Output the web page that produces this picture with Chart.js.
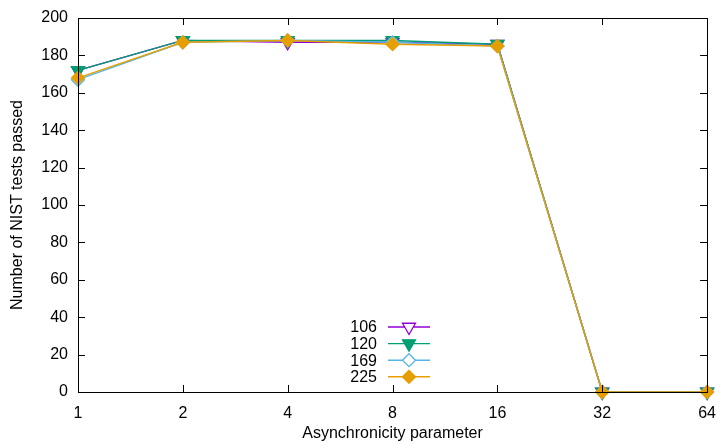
<!DOCTYPE html>
<html><head><meta charset="utf-8">
<script src="https://cdn.jsdelivr.net/npm/chart.js"></script>
<style>html,body{margin:0;padding:0;background:#fff}#wrap{width:720px;height:443px}</style>
</head><body><div id="wrap"><canvas id="c" width="720" height="443"></canvas></div>
<script>
const categories = ['1','2','4','8','16','32','64'];
const s106 = [172, 188, 187, 187, 186, 0, 0];
const s120 = [172, 188, 188, 188, 186, 0, 0];
const s169 = [167, 187, 188, 187, 185, 0, 0];
const s225 = [168, 187, 188, 186, 185, 0, 0];
const yTicks = [0,20,40,60,80,100,120,140,160,180,200];
const FONT = '"Liberation Sans", Arial, Helvetica, sans-serif';
const FS = 16;

function drawMarker(ctx, d, x, y) {
  ctx.save();
  ctx.fillStyle = d.pointBackgroundColor; ctx.strokeStyle = d.borderColor; ctx.lineWidth = d.pointBorderWidth;
  Chart.helpers.drawPoint(ctx, {pointStyle: d.pointStyle, radius: d.pointRadius, rotation: d.pointRotation, borderWidth: d.pointBorderWidth}, x, y);
  ctx.restore();
}
const frame = {
  id: 'frame',
  afterDraw(chart) {
    const ctx = chart.ctx, a = chart.chartArea;
    const x = chart.scales.x, y = chart.scales.y;
    ctx.save();
    ctx.strokeStyle = '#000'; ctx.lineWidth = 1;
    ctx.strokeRect(Math.round(a.left)+0.5, Math.round(a.top)+0.5, Math.round(a.right-a.left), Math.round(a.bottom-a.top));
    ctx.beginPath();
    x.ticks.forEach((t,i)=>{ const px = Math.round(x.getPixelForTick(i))+0.5;
      ctx.moveTo(px,a.bottom); ctx.lineTo(px,a.bottom-7); ctx.moveTo(px,a.top); ctx.lineTo(px,a.top+7); });
    y.ticks.forEach((t,i)=>{ const py = Math.round(y.getPixelForTick(i))+0.5;
      ctx.moveTo(a.left,py); ctx.lineTo(a.left+7,py); ctx.moveTo(a.right,py); ctx.lineTo(a.right-7,py); });
    ctx.stroke();
    // legend
    const rows = chart.data.datasets;
    ctx.font = FS + 'px ' + FONT; ctx.textAlign = 'right'; ctx.textBaseline = 'middle';
    rows.forEach((d,i)=>{
      const ly = 327 + i*16.6;
      ctx.fillStyle = '#000';
      ctx.fillText(d.label, 377, ly+1);
      ctx.strokeStyle = d.borderColor; ctx.lineWidth = 1.4;
      ctx.beginPath(); ctx.moveTo(388, ly); ctx.lineTo(430, ly); ctx.stroke();
      drawMarker(ctx, d, 409, ly);
    });
    ctx.restore();
  }
};
function ds(label, data, color, style, filled, rot, r, order) {
  return { label, data, order, borderColor: color, backgroundColor: color,
    pointBackgroundColor: filled ? color : '#fff', pointBorderColor: color,
    pointStyle: style, pointRotation: rot, pointRadius: r, pointBorderWidth: 1.3,
    borderWidth: 1.4, tension: 0, fill: false, clip: false };
}
new Chart(document.getElementById('c'), {
  type: 'line',
  data: { labels: categories, datasets: [
    ds('106', s106, '#9400d3', 'triangle', false, 180, 7.5, 3),
    ds('120', s120, '#009e73', 'triangle', true, 180, 7.5, 2),
    ds('169', s169, '#56b4e9', 'rectRot', false, 0, 6.5, 1),
    ds('225', s225, '#e69f00', 'rectRot', true, 0, 6.5, 0)
  ]},
  options: {
    responsive: false, animation: false, devicePixelRatio: 1,
    layout: { padding: { top: 18, right: 7, left: 0, bottom: 0 } },
    plugins: { legend: { display: false }, tooltip: { enabled: false } },
    scales: {
      x: { type: 'category', offset: false,
        grid: { display: false }, border: { display: false },
        ticks: { color: '#000', font: { family: FONT, size: FS }, padding: 4, maxRotation: 0, autoSkip: false },
        title: { display: true, text: 'Asynchronicity parameter', color: '#000', font: { family: FONT, size: FS }, padding: { top: 0, bottom: 0 } },
        afterFit(s) { s.height = 51; }
      },
      y: { min: 0, max: 200, afterBuildTicks(s) { s.ticks = yTicks.map(v=>({value:v})); },
        grid: { display: false }, border: { display: false },
        ticks: { color: '#000', font: { family: FONT, size: FS }, padding: 2 },
        title: { display: true, text: 'Number of NIST tests passed', color: '#000', font: { family: FONT, size: FS }, padding: { top: 8, bottom: 0 } },
        afterFit(s) { s.width = 78; }
      }
    }
  },
  plugins: [frame]
});
</script></body></html>
